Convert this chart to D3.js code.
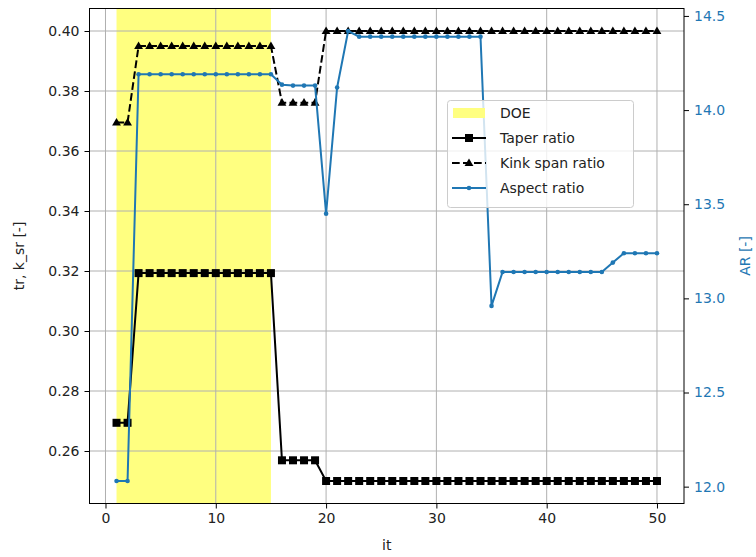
<!DOCTYPE html>
<html><head><meta charset="utf-8">
<script src="https://cdn.jsdelivr.net/npm/d3@7"></script>
<style>body{margin:0;background:#fff}svg{display:block;font-family:"DejaVu Sans",sans-serif}</style>
</head><body><svg id="c" width="756" height="557"></svg>
<script>
const iterations = d3.range(1, 51);
const taperRatio = [0.2694,0.2694,
  0.3193,0.3193,0.3193,0.3193,0.3193,0.3193,0.3193,0.3193,0.3193,0.3193,0.3193,0.3193,0.3193,
  0.2569,0.2569,0.2569,0.2569,
  0.25,0.25,0.25,0.25,0.25,0.25,0.25,0.25,0.25,0.25,0.25,0.25,0.25,0.25,0.25,0.25,0.25,0.25,0.25,0.25,0.25,0.25,0.25,0.25,0.25,0.25,0.25,0.25,0.25,0.25,0.25];
const kinkSpanRatio = [0.3695,0.3695,
  0.395,0.395,0.395,0.395,0.395,0.395,0.395,0.395,0.395,0.395,0.395,0.395,0.395,
  0.3761,0.3761,0.3761,0.3761,
  0.40,0.40,0.40,0.40,0.40,0.40,0.40,0.40,0.40,0.40,0.40,0.40,0.40,0.40,0.40,0.40,0.40,0.40,0.40,0.40,0.40,0.40,0.40,0.40,0.40,0.40,0.40,0.40,0.40,0.40,0.40];
const aspectRatio = [12.03,12.03,
  14.19,14.19,14.19,14.19,14.19,14.19,14.19,14.19,14.19,14.19,14.19,14.19,14.19,
  14.135,14.13,14.13,14.13,
  13.45,14.12,14.42,
  14.39,14.39,14.39,14.39,14.39,14.39,14.39,14.39,14.39,14.39,14.39,14.39,
  12.96,
  13.14,13.14,13.14,13.14,13.14,13.14,13.14,13.14,13.14,13.14,
  13.19,
  13.24,13.24,13.24,13.24];
const doeRange = [1, 15];
const xTicks = [0, 10, 20, 30, 40, 50];
const leftTicks = [0.26, 0.28, 0.30, 0.32, 0.34, 0.36, 0.38, 0.40];
const rightTicks = [12.0, 12.5, 13.0, 13.5, 14.0, 14.5];
const legendLabels = ["DOE", "Taper ratio", "Kink span ratio", "Aspect ratio"];

const blue = "#1f77b4";
const L = 89.5, R = 684, T = 8.5, B = 503.5;
const svg = d3.select("#c");

function padded(arr){const mn=d3.min(arr),mx=d3.max(arr),p=(mx-mn)*0.05;return [mn-p,mx+p];}
const x = d3.scaleLinear().domain(padded(iterations)).range([L, R]);
const yL = d3.scaleLinear().domain(padded(taperRatio.concat(kinkSpanRatio))).range([B, T]);
const yR = d3.scaleLinear().domain(padded(aspectRatio)).range([B, T]);

// DOE span
svg.append("rect").attr("x", x(doeRange[0])).attr("y", T)
  .attr("width", x(doeRange[1]) - x(doeRange[0])).attr("height", B - T)
  .attr("fill", "#ffff80");

// grid
const g = svg.append("g").attr("stroke", "#b0b0b0").attr("stroke-width", 1);
xTicks.forEach(t => g.append("line").attr("x1", x(t)).attr("x2", x(t)).attr("y1", T).attr("y2", B));
leftTicks.forEach(t => g.append("line").attr("x1", L).attr("x2", R).attr("y1", yL(t)).attr("y2", yL(t)));

// lines
const lw = 2;
const lineL = d3.line().x((d,i)=>x(iterations[i])).y(d=>yL(d));
const lineR = d3.line().x((d,i)=>x(iterations[i])).y(d=>yR(d));

svg.append("path").datum(taperRatio).attr("d", lineL).attr("fill","none").attr("stroke","#000").attr("stroke-width",lw);
svg.append("g").selectAll("rect").data(taperRatio).join("rect")
  .attr("x",(d,i)=>x(iterations[i])-4).attr("y",d=>yL(d)-4).attr("width",8).attr("height",8).attr("fill","#000");

svg.append("path").datum(kinkSpanRatio).attr("d", lineL).attr("fill","none").attr("stroke","#000").attr("stroke-width",lw).attr("stroke-dasharray","7.7,3.3");
const tri = d3.symbol().type(d3.symbolTriangle).size(34);
svg.append("g").selectAll("path").data(kinkSpanRatio).join("path")
  .attr("d", tri).attr("transform",(d,i)=>`translate(${x(iterations[i])},${yL(d)+0.5})`).attr("fill","#000");

svg.append("path").datum(aspectRatio).attr("d", lineR).attr("fill","none").attr("stroke",blue).attr("stroke-width",lw);
svg.append("g").selectAll("circle").data(aspectRatio).join("circle")
  .attr("cx",(d,i)=>x(iterations[i])).attr("cy",d=>yR(d)).attr("r",2.3).attr("fill",blue);

// spines
svg.append("rect").attr("x",L).attr("y",T).attr("width",R-L).attr("height",B-T).attr("fill","none").attr("stroke","#000").attr("stroke-width",1);

// axes
const fs = "14px";
const ax = svg.append("g").attr("transform",`translate(0,${B})`)
  .call(d3.axisBottom(x).tickValues(xTicks).tickSize(5).tickPadding(5).tickFormat(d3.format("d")));
const ay = svg.append("g").attr("transform",`translate(${L},0)`)
  .call(d3.axisLeft(yL).tickValues(leftTicks).tickSize(5).tickPadding(5).tickFormat(d3.format(".2f")));
const ar = svg.append("g").attr("transform",`translate(${R},0)`)
  .call(d3.axisRight(yR).tickValues(rightTicks).tickSize(5).tickPadding(5).tickFormat(d3.format(".1f")));
[ax, ay, ar].forEach(a => {
  a.select(".domain").remove();
  a.selectAll("text").attr("font-size", fs).attr("font-family","DejaVu Sans").attr("fill","#222");
  a.selectAll("line").attr("stroke","#000").attr("stroke-width",1);
});
ar.selectAll("text").attr("fill", blue);

svg.append("text").attr("x",(L+R)/2).attr("y",550).attr("text-anchor","middle").attr("font-size",fs).attr("fill","#222").text("it");
svg.append("text").attr("transform",`translate(24,${(T+B)/2}) rotate(-90)`).attr("text-anchor","middle").attr("font-size",fs).attr("fill","#222").text("tr, k_sr [-]");
svg.append("text").attr("transform",`translate(750,${(T+B)/2}) rotate(-90)`).attr("text-anchor","middle").attr("font-size",fs).attr("fill",blue).text("AR [-]");

// legend
const lg = svg.append("g");
lg.append("rect").attr("x",447.5).attr("y",100.5).attr("width",186).attr("height",107).attr("rx",3)
  .attr("fill","#fff").attr("fill-opacity",0.8).attr("stroke","#cccccc").attr("stroke-width",1);
const rowY = [113, 138, 163, 188];
lg.append("rect").attr("x",453).attr("y",rowY[0]-5).attr("width",32).attr("height",10).attr("fill","#ffff80");
lg.append("line").attr("x1",452).attr("x2",486).attr("y1",rowY[1]).attr("y2",rowY[1]).attr("stroke","#000").attr("stroke-width",lw);
lg.append("rect").attr("x",465).attr("y",rowY[1]-4).attr("width",8).attr("height",8).attr("fill","#000");
lg.append("line").attr("x1",452).attr("x2",486).attr("y1",rowY[2]).attr("y2",rowY[2]).attr("stroke","#000").attr("stroke-width",lw).attr("stroke-dasharray","7.7,3.3");
lg.append("path").attr("d",tri).attr("transform",`translate(469,${rowY[2]+0.5})`).attr("fill","#000");
lg.append("line").attr("x1",452).attr("x2",486).attr("y1",rowY[3]).attr("y2",rowY[3]).attr("stroke",blue).attr("stroke-width",lw);
lg.append("circle").attr("cx",469).attr("cy",rowY[3]).attr("r",2.3).attr("fill",blue);
legendLabels.forEach((t,i)=>lg.append("text").attr("x",500).attr("y",rowY[i]).attr("dy","0.35em").attr("font-size",fs).attr("fill","#222").text(t));
</script></body></html>
